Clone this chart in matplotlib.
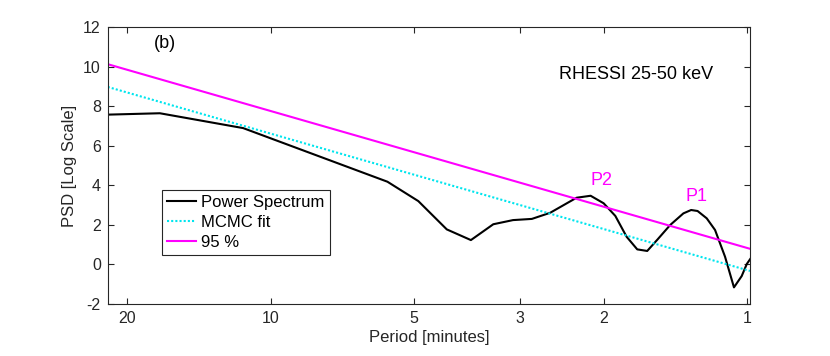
import numpy as np
import matplotlib
matplotlib.use("Agg")
import matplotlib.pyplot as plt
from matplotlib.ticker import FixedLocator, FixedFormatter, NullLocator

plt.rcParams['font.family'] = ['Liberation Sans', 'DejaVu Sans']
plt.rcParams['axes.unicode_minus'] = False

# power spectrum (period in minutes, PSD in log scale)
period = [22.0, 17.1, 11.43, 5.69, 4.90, 4.27, 3.80, 3.41, 3.10, 2.83,
          2.59, 2.28, 2.13, 2.00, 1.89, 1.79, 1.70, 1.62, 1.54, 1.45,
          1.36, 1.31, 1.27, 1.215, 1.167, 1.112, 1.065, 1.026, 1.001, 0.982]
psd = [7.57, 7.64, 6.89, 4.18, 3.20, 1.77, 1.23, 2.03, 2.24, 2.30,
       2.61, 3.37, 3.47, 3.09, 2.45, 1.40, 0.76, 0.68, 1.27, 1.99,
       2.58, 2.75, 2.70, 2.33, 1.74, 0.39, -1.16, -0.59, 0.02, 0.31]

# straight lines (in log period) for the fit and the 95% level
line_period = [22.0, 0.9856]
mcmc_fit = [8.97, -0.33]
conf_95 = [10.12, 0.79]

xticks = [20, 10, 5, 3, 2, 1]
yticks = [-2, 0, 2, 4, 6, 8, 10, 12]

fig = plt.figure(figsize=(8.3, 3.56), dpi=100)
ax = fig.add_axes([0.1298, 0.1461, 0.7738, 0.7781])

ax.plot(period, psd, color='black', lw=1.5, label='Power Spectrum')
ax.plot(line_period, mcmc_fit, color='#00e5ee', lw=1.5, ls=(0, (1, 1)), label='MCMC fit')
ax.plot(line_period, conf_95, color='#ff00ff', lw=1.5, label='95 %')

ax.set_xscale('log')
ax.set_xlim(22.0, 0.9856)
ax.set_ylim(-2, 12)
ax.xaxis.set_major_locator(FixedLocator(xticks))
ax.xaxis.set_major_formatter(FixedFormatter([str(t) for t in xticks]))
ax.xaxis.set_minor_locator(NullLocator())
ax.set_yticks(yticks)

ax.tick_params(direction='in', length=4.5, width=0.8, top=True, right=True,
               labelsize=11.5, colors='#262626', pad=5)
for s in ax.spines.values():
    s.set_color('#262626')
    s.set_linewidth(0.8)

ax.set_xlabel('Period [minutes]', fontsize=12, color='#262626', labelpad=3)
ax.set_ylabel('PSD [Log Scale]', fontsize=12, color='#262626', labelpad=4)

ax.text(0.0892, 0.940, '(b)', transform=ax.transAxes, fontsize=13,
        ha='center', va='center')
ax.text(0.8225, 0.827, 'RHESSI 25-50 keV', transform=ax.transAxes, fontsize=13,
        ha='center', va='center')
ax.text(2.02, 4.25, 'P2', color='#ff00ff', fontsize=13, ha='center', va='center')
ax.text(1.275, 3.42, 'P1', color='#ff00ff', fontsize=13, ha='center', va='center')

leg = ax.legend(loc='upper left', bbox_to_anchor=(0.0845, 0.4116), fontsize=12,
                frameon=True, fancybox=False, borderpad=0.3, labelspacing=0.3,
                handlelength=1.75, handletextpad=0.3, borderaxespad=0)
leg.get_frame().set_edgecolor('#262626')
leg.get_frame().set_linewidth(0.8)
leg.get_frame().set_alpha(1)

fig.savefig('out.png', dpi=100)
